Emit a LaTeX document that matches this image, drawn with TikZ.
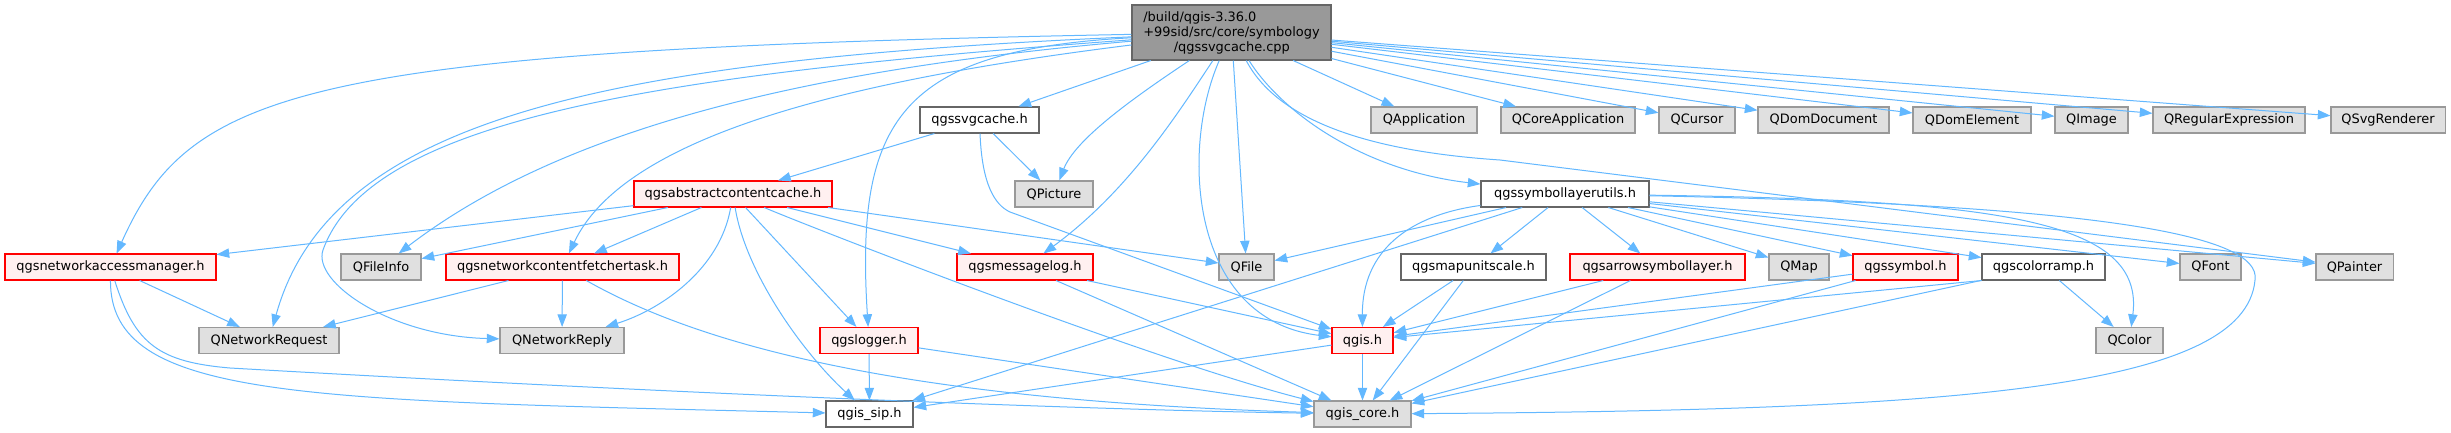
\documentclass[tikz,border=0pt]{standalone}
\usepackage{fontspec}
\setmainfont{DejaVu Sans}
\usetikzlibrary{arrows.meta}
\definecolor{edgeblue}{HTML}{63B8FF}
\definecolor{sysfill}{HTML}{E0E0E0}
\definecolor{sysline}{HTML}{999999}
\definecolor{redfill}{HTML}{FFF0F0}
\definecolor{plainline}{HTML}{666666}
\definecolor{rootfill}{HTML}{999999}
\tikzset{
  hfile/.style={draw, line width=0.8pt, inner sep=0pt, minimum height=19.5pt},
  sysfile/.style={hfile, draw=sysline, fill=sysfill},
  redfile/.style={hfile, draw=red, fill=redfill},
  plainfile/.style={hfile, draw=plainline, fill=white},
  rootfile/.style={hfile, draw=plainline, fill=rootfill},
  wd/.style={minimum width=#1*0.75pt},
  incl/.style={draw=edgeblue, line width=0.75pt, -{Triangle[length=9.5pt,width=7pt]}}
}
\begin{document}
\begin{tikzpicture}[x=0.75pt, y=-0.75pt, font=\fontsize{9.7}{11.25}\selectfont]
      \path[fill=white, use as bounding box] (0,0) rectangle (2451,432);

      \node[rootfile, wd=199, minimum height=41.25pt, align=left] (main) at (1231.5,32.5) {/build/qgis-3.36.0\\+99sid/src/core/symbology\\\hspace*{2.35em}/qgssvgcache.cpp};

      \node[plainfile, wd=119] (svgcache) at (979.5,120) {qgssvgcache.h};
      \node[sysfile, wd=106] (qapp) at (1424,120) {QApplication};
      \node[sysfile, wd=134] (qcoreapp) at (1568,120) {QCoreApplication};
      \node[sysfile, wd=76] (qcursor) at (1697,120) {QCursor};
      \node[sysfile, wd=131] (qdomdoc) at (1823.5,120) {QDomDocument};
      \node[sysfile, wd=118] (qdomelem) at (1972,120) {QDomElement};
      \node[sysfile, wd=73] (qimage) at (2091.5,120) {QImage};
      \node[sysfile, wd=152] (qregexp) at (2229,120) {QRegularExpression};
      \node[sysfile, wd=114] (qsvgrend) at (2388,120) {QSvgRenderer};

      \node[redfile, wd=198] (abscache) at (733,194) {qgsabstractcontentcache.h};
      \node[sysfile, wd=78] (qpicture) at (1054,194) {QPicture};
      \node[plainfile, wd=168] (symutils) at (1565,194) {qgssymbollayerutils.h};

      \node[redfile, wd=211] (netmgr) at (110.5,267) {qgsnetworkaccessmanager.h};
      \node[sysfile, wd=80] (qfileinfo) at (381,267) {QFileInfo};
      \node[redfile, wd=233] (fetcher) at (562.5,267) {qgsnetworkcontentfetchertask.h};
      \node[redfile, wd=136] (msglog) at (1025,267) {qgsmessagelog.h};
      \node[sysfile, wd=55] (qfile) at (1246.5,267) {QFile};
      \node[plainfile, wd=145] (mapunit) at (1473.5,267) {qgsmapunitscale.h};
      \node[redfile, wd=175] (arrowsym) at (1657.5,267) {qgsarrowsymbollayer.h};
      \node[sysfile, wd=60] (qmap) at (1799,267) {QMap};
      \node[redfile, wd=105] (symbol) at (1905.5,267) {qgssymbol.h};
      \node[plainfile, wd=123] (colorramp) at (2043.5,267) {qgscolorramp.h};
      \node[sysfile, wd=61] (qfont) at (2210.5,267) {QFont};
      \node[sysfile, wd=77] (qpainter) at (2354.5,267) {QPainter};

      \node[sysfile, wd=140] (qnetreq) at (269,340.5) {QNetworkRequest};
      \node[sysfile, wd=124] (qnetreply) at (562,340.5) {QNetworkReply};
      \node[redfile, wd=98] (logger) at (869,340.5) {qgslogger.h};
      \node[redfile, wd=61] (qgish) at (1362.5,340.5) {qgis.h};
      \node[sysfile, wd=67] (qcolor) at (2129.5,340.5) {QColor};

      \node[plainfile, wd=87] (qgissip) at (869.5,414) {qgis\_sip.h};
      \node[sysfile, wd=97] (qgiscore) at (1362.5,414) {qgis\_core.h};

      \draw[incl] (main) .. controls (300,50) and (190,90) .. (netmgr);
      \draw[incl] (main) .. controls (600,60) and (330,120) .. (qnetreq);
      \draw[incl] (main) .. controls (650,75) and (370,120) .. (323,250) .. controls (312,282) and (390,336) .. (qnetreply);
      \draw[incl] (main) .. controls (800,70) and (560,130) .. (qfileinfo);
      \draw[incl] (main) .. controls (850,80) and (625,135) .. (fetcher);
      \draw[incl] (main) .. controls (900,50) and (855,120) .. (logger);
      \draw[incl] (main) -- (svgcache);
      \draw[incl] (main) .. controls (1130,100) and (1075,140) .. (qpicture);
      \draw[incl] (main) .. controls (1180,110) and (1130,190) .. (msglog);
      \draw[incl] (main) .. controls (1180,150) and (1190,320) .. (qgish);
      \draw[incl] (main) -- (qfile);
      \draw[incl] (main) .. controls (1280,110) and (1360,170) .. (symutils);
      \draw[incl] (main) .. controls (1280,125) and (1380,152) .. (1500,160) -- (qpainter);
      \draw[incl] (main) -- (qapp);
      \draw[incl] (main) -- (qcoreapp);
      \draw[incl] (main) -- (qcursor);
      \draw[incl] (main) -- (qdomdoc);
      \draw[incl] (main) -- (qdomelem);
      \draw[incl] (main) -- (qimage);
      \draw[incl] (main) -- (qregexp);
      \draw[incl] (main) -- (qsvgrend);

      \draw[incl] (svgcache) -- (abscache);
      \draw[incl] (svgcache) -- (qpicture);
      \draw[incl] (svgcache) .. controls (982,185) and (995,205) .. (1010,212) -- (qgish);

      \draw[incl] (abscache) -- (netmgr);
      \draw[incl] (abscache) -- (qfileinfo);
      \draw[incl] (abscache) -- (fetcher);
      \draw[incl] (abscache) .. controls (720,270) and (660,310) .. (qnetreply);
      \draw[incl] (abscache) .. controls (745,270) and (800,350) .. (qgissip);
      \draw[incl] (abscache) -- (logger);
      \draw[incl] (abscache) .. controls (800,223) and (1150,360) .. (qgiscore);
      \draw[incl] (abscache) -- (msglog);
      \draw[incl] (abscache) -- (qfile);

      \draw[incl] (netmgr) -- (qnetreq);
      \draw[incl] (netmgr) .. controls (110,400) and (300,400) .. (qgissip);
      \draw[incl] (netmgr) .. controls (135,345) and (160,362) .. (230,368) .. controls (700,395) and (1100,410) .. (qgiscore);

      \draw[incl] (fetcher) -- (qnetreq);
      \draw[incl] (fetcher) -- (qnetreply);
      \draw[incl] (fetcher) .. controls (700,345) and (900,400) .. (qgiscore);

      \draw[incl] (logger) -- (qgissip);
      \draw[incl] (logger) -- (qgiscore);

      \draw[incl] (msglog) -- (qgish);
      \draw[incl] (msglog) -- (qgiscore);

      \draw[incl] (qgish) -- (qgissip);
      \draw[incl] (qgish) -- (qgiscore);

      \draw[incl] (symutils) -- (qfile);
      \draw[incl] (symutils) -- (qgissip);
      \draw[incl] (symutils) .. controls (1410,215) and (1362,250) .. (qgish);
      \draw[incl] (symutils) -- (mapunit);
      \draw[incl] (symutils) -- (arrowsym);
      \draw[incl] (symutils) -- (qmap);
      \draw[incl] (symutils) -- (symbol);
      \draw[incl] (symutils) -- (colorramp);
      \draw[incl] (symutils) -- (qfont);
      \draw[incl] (symutils) -- (qpainter);
      \draw[incl] (symutils) .. controls (2000,200) and (2145,220) .. (qcolor);
      \draw[incl] (symutils) .. controls (2100,205) and (2262,235) .. (2255,280) .. controls (2245,390) and (1950,410) .. (qgiscore);

      \draw[incl] (mapunit) -- (qgish);
      \draw[incl] (mapunit) -- (qgiscore);
      \draw[incl] (arrowsym) -- (qgish);
      \draw[incl] (arrowsym) -- (qgiscore);
      \draw[incl] (symbol) -- (qgish);
      \draw[incl] (symbol) -- (qgiscore);
      \draw[incl] (colorramp.south west) -- (qgish);
      \draw[incl] (colorramp) -- (qgiscore);
      \draw[incl] (colorramp) -- (qcolor);
    \end{tikzpicture}
\end{document}
